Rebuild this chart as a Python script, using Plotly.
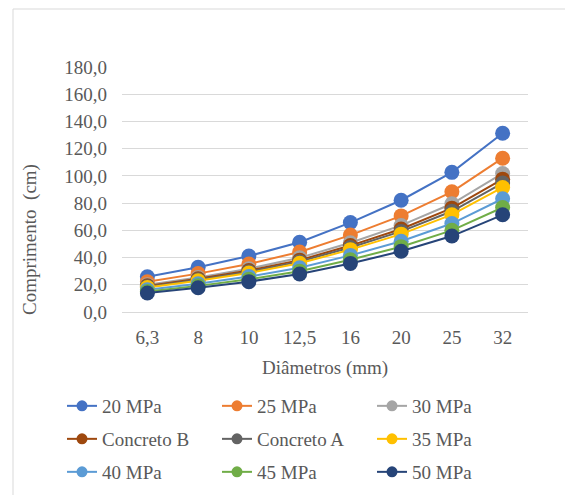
import plotly.graph_objects as go

# Bar diameters (mm) shown as category labels
diametros = ["6,3", "8", "10", "12,5", "16", "20", "25", "32"]

# Length (cm) for each concrete class
s20 = [25.9, 32.9, 41.1, 51.3, 65.7, 82.1, 102.6, 131.3]
s25 = [22.2, 28.2, 35.3, 44.1, 56.5, 70.6, 88.3, 113.0]
s30 = [20.0, 25.4, 31.8, 39.8, 50.9, 63.6, 79.5, 101.8]
concreto_b = [19.2, 24.4, 30.5, 38.1, 48.8, 61.0, 76.3, 97.6]
concreto_a = [18.6, 23.7, 29.6, 37.0, 47.4, 59.2, 74.0, 94.7]
s35 = [18.0, 22.9, 28.6, 35.8, 45.8, 57.2, 71.5, 91.5]
s40 = [16.4, 20.8, 26.0, 32.5, 41.6, 52.0, 65.0, 83.2]
s45 = [15.1, 19.2, 24.0, 30.0, 38.4, 48.0, 60.0, 76.8]
s50 = [14.0, 17.8, 22.3, 27.9, 35.7, 44.6, 55.8, 71.4]

series = [
    ("20 MPa", s20, "#4472C4"),
    ("25 MPa", s25, "#ED7D31"),
    ("30 MPa", s30, "#A5A5A5"),
    ("Concreto B", concreto_b, "#9E480E"),
    ("Concreto A", concreto_a, "#636363"),
    ("35 MPa", s35, "#FFC000"),
    ("40 MPa", s40, "#5B9BD5"),
    ("45 MPa", s45, "#70AD47"),
    ("50 MPa", s50, "#264478"),
]

FONT = "Liberation Serif"
TXT = "#595959"
GRID = "#D9D9D9"
FS = 19
LEG_FS = 19

W, H = 565, 495
L, R, T, B = 122, 37, 67, 183
pw, ph = W - L - R, H - T - B


def px_x(px):
    return (px - L) / pw


def px_y(py):
    return (H - B - py) / ph


fig = go.Figure()
for name, vals, color in series:
    # plotted series (large markers)
    fig.add_trace(go.Scatter(
        x=diametros, y=vals, name=name, mode="lines+markers",
        line=dict(color=color, width=2),
        marker=dict(color=color, size=15),
        showlegend=False,
    ))

# three legend rows, three entries each
legend_ids = ["legend", "legend2", "legend3"]
for i, (name, vals, color) in enumerate(series):
    fig.add_trace(go.Scatter(
        x=[None], y=[None], name=name, mode="lines+markers",
        line=dict(color=color, width=2),
        marker=dict(color=color, size=11),
        showlegend=True, legend=legend_ids[i // 3],
    ))

row_centres = [406, 439, 472]
legend_common = dict(
    orientation="h", xref="paper", yref="paper",
    x=px_x(62), xanchor="left", yanchor="middle",
    entrywidth=110, entrywidthmode="pixels",
    font=dict(family=FONT, size=LEG_FS, color=TXT),
    bgcolor="rgba(0,0,0,0)",
)

fig.update_layout(
    template="none",
    width=W, height=H,
    margin=dict(l=L, r=R, t=T, b=B, autoexpand=False),
    paper_bgcolor="white", plot_bgcolor="white",
    font=dict(family=FONT, size=FS, color=TXT),
    separators=",.",
    legend=dict(legend_common, y=px_y(row_centres[0])),
    legend2=dict(legend_common, y=px_y(row_centres[1])),
    legend3=dict(legend_common, y=px_y(row_centres[2])),
    xaxis=dict(
        type="category", range=[-0.5, len(diametros) - 0.5],
        showgrid=False, showline=True, linecolor=GRID,
        linewidth=1, ticks="", tickfont=dict(size=FS), ticklabelstandoff=8,
        zeroline=False, automargin=False,
    ),
    yaxis=dict(
        range=[0, 180], dtick=20, tickformat=".1f", showgrid=True,
        gridcolor=GRID, gridwidth=1, zeroline=False, showline=False,
        ticks="", tickfont=dict(size=FS), ticklabelstandoff=14,
        automargin=False,
    ),
    annotations=[
        dict(text="Diâmetros (mm)", xref="paper", yref="paper",
             x=0.5, y=px_y(368), xanchor="center", yanchor="middle",
             showarrow=False, font=dict(family=FONT, size=FS, color=TXT)),
        dict(text="Comprimento\u00a0 (cm)", xref="paper", yref="paper",
             x=px_x(30), y=px_y(240), xanchor="center", yanchor="middle",
             textangle=-90, showarrow=False,
             font=dict(family=FONT, size=FS, color=TXT)),
    ],
)

# Chart frame (top and left edges visible)
fig.add_shape(
    type="rect", xref="paper", yref="paper",
    x0=px_x(13), x1=px_x(W + 20),
    y0=px_y(H + 20), y1=px_y(9),
    line=dict(color=GRID, width=1), fillcolor="rgba(0,0,0,0)", layer="below",
)

fig.write_html("out.html")
